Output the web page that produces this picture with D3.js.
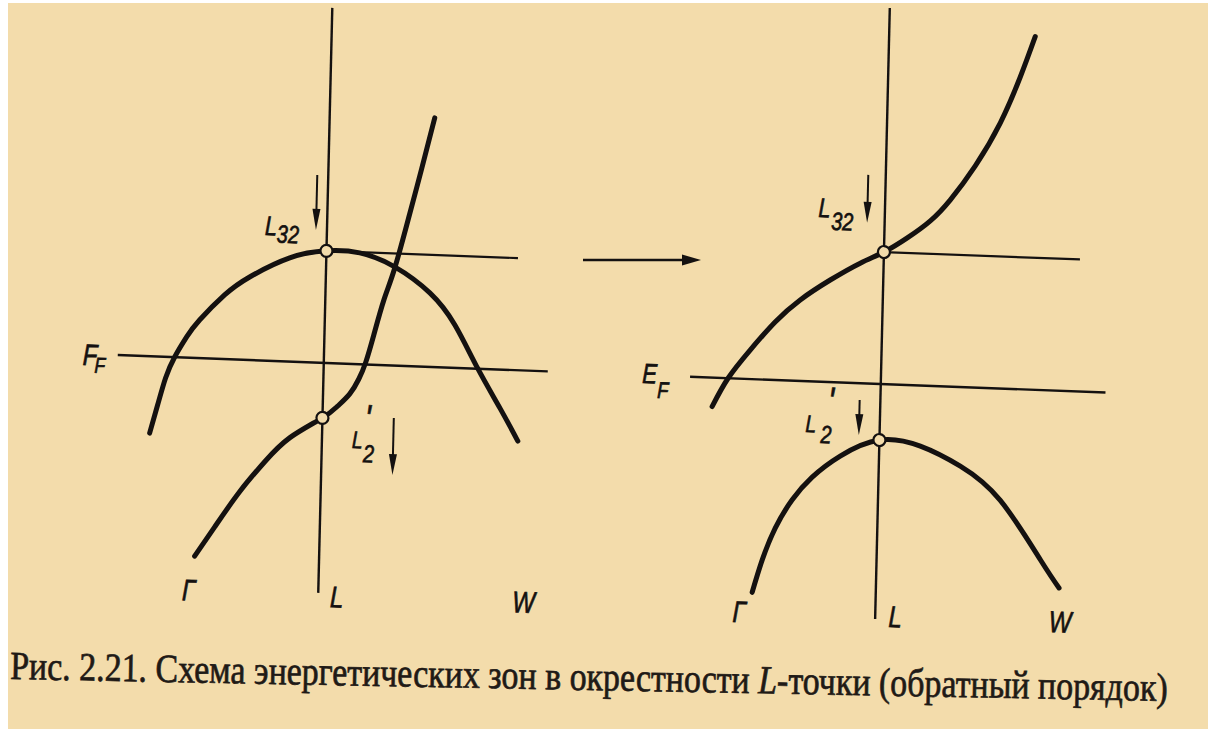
<!DOCTYPE html>
<html>
<head>
<meta charset="utf-8">
<script src="https://cdn.jsdelivr.net/npm/d3@7"></script>
<style>
  html, body { margin: 0; padding: 0; background: #ffffff; }
  svg { display: block; }
</style>
</head>
<body>
<svg id="fig" width="1208" height="729"></svg>
<script>
// Energy bands near the L point, direct (left) and inverted (right) ordering.
// k: wave vector along Γ–L–W, L at k = 0; E: energy, Fermi level at E = 0.

// Left panel: L32 band (maximum at L)
const leftUpperK = [-1.723, -1.65, -1.577, -1.492, -1.376, -1.251, -1.007, -0.761, -0.365, 0, 0.333, 0.686, 1.043, 1.301, 1.541, 1.771, 1.958];
const leftUpperE = [-0.768, -0.485, -0.211, 0.0, 0.207, 0.381, 0.641, 0.83, 1.036, 1.12, 1.112, 0.986, 0.739, 0.428, 0.0, -0.385, -0.708];
// Left panel: L2' band (rising through L)
const leftLowerK = [-1.244, -1.05, -0.81, -0.566, -0.32, 0, 0.15, 0.267, 0.354, 0.42, 0.493, 0.585, 0.687, 0.82, 0.93, 1.05];
const leftLowerE = [-1.98, -1.68, -1.32, -1.01, -0.76, -0.55, -0.426, -0.30, -0.148, 0.025, 0.298, 0.65, 0.976, 1.51, 1.97, 2.49];

// Right panel: L32 band (rising through L)
const rightUpperK = [-1.68, -1.527, -1.313, -1.07, -0.825, -0.53, -0.234, 0, 0.23, 0.456, 0.651, 0.892, 1.132, 1.32, 1.46];
const rightUpperE = [-0.29, 0.0, 0.29, 0.58, 0.81, 1.02, 1.20, 1.32, 1.47, 1.649, 1.867, 2.216, 2.655, 3.12, 3.53];
// Right panel: L2' band (maximum at L)
const rightLowerK = [-1.235, -1.143, -1.02, -0.857, -0.663, -0.388, 0, 0.41, 0.814, 1.22, 1.64, 1.83];
const rightLowerE = [-2.13, -1.805, -1.48, -1.19, -0.956, -0.735, -0.56, -0.605, -0.79, -1.115, -1.70, -1.97];

// Levels at the L point
const levelsL32 = [1.12, 1.32];      // left, right
const levelsL2 = [-0.55, -0.56];     // left, right
// Extent of the Fermi-level line and of the L32 level line, in k
const fermiK = [[-2.06, 2.24], [-1.907, 2.247]];
const l32LineK = [[0, 1.915], [0, 1.96]];
// Extent of the vertical line through L, in E
const axisE = [[-2.3, 3.55], [-2.35, 3.76]];

// Labels
const pointLabels = ["Γ", "L", "W"];
const fermiLabels = [["F", "F"], ["E", "F"]];
const levelNames = { upper: ["L", "32"], lower: ["L", "2", "'"] };
const captionText = ["Рис. 2.21. Схема энергетических зон в окрестности ", "L", "-точки (обратный порядок)"];

const W = 1208, H = 729;
const paper = "#f3dcab";
const ink = "#141110";

const svg = d3.select("#fig");
svg.append("rect").attr("x", 8).attr("y", 3).attr("width", W - 8).attr("height", H - 3).attr("fill", paper);

// The printed figure sits slightly askew on the page
const fig = svg.append("g").attr("transform", "matrix(1,0.038,-0.024,1,8.736,-22.952)");

const y = d3.scaleLinear().domain([0, 1]).range([373.5, 273.5]);
const xs = [
  d3.scaleLinear().domain([0, 1]).range([324, 424]),
  d3.scaleLinear().domain([0, 1]).range([881, 981])
];

const bands = [
  [d3.zip(leftUpperK, leftUpperE), d3.zip(leftLowerK, leftLowerE)],
  [d3.zip(rightUpperK, rightUpperE), d3.zip(rightLowerK, rightLowerE)]
];

function label(parent, px, py, txt, size, sx = 0.8) {
  parent.append("text")
    .attr("transform", `translate(${px},${py}) scale(${sx},1)`)
    .attr("font-family", "'Liberation Sans', Arial, sans-serif")
    .attr("font-style", "italic")
    .attr("font-size", size)
    .attr("fill", ink)
    .attr("stroke", ink)
    .attr("stroke-width", 0.7)
    .text(txt);
}

function downArrow(parent, px, y0, y1) {
  parent.append("line").attr("x1", px).attr("x2", px).attr("y1", y0).attr("y2", y1 - 10)
    .attr("stroke", ink).attr("stroke-width", 2);
  parent.append("path")
    .attr("d", `M${px - 4},${y1 - 21} L${px + 4},${y1 - 21} L${px},${y1} Z`)
    .attr("fill", ink);
}

// Annotation layout per panel, in (k, E)
const layout = [
  {
    l32: { L: [-0.62, 1.255], sub: [-0.50, 1.185], arrow: [-0.11, 1.875, 1.325] },
    l2: { L: [0.30, -0.84], sub: [0.414, -0.977], prime: [0.42, -0.68], arrow: [0.713, -0.525, -1.095] },
    fermi: { main: [-2.41, -0.113], sub: [-2.29, -0.185], size: [30, 22] },
    bottom: [[-1.363, -2.425], [0.118, -2.44], [1.94, -2.42]]
  },
  {
    l32: { L: [-0.665, 1.646], sub: [-0.535, 1.522], arrow: [-0.175, 2.085, 1.605] },
    l2: { L: [-0.744, -0.509], sub: [-0.59, -0.613], prime: [-0.524, -0.33], arrow: [-0.207, -0.168, -0.518] },
    fermi: { main: [-2.385, -0.081], sub: [-2.232, -0.225], size: [28, 23] },
    bottom: [[-1.428, -2.435], [0.133, -2.425], [1.734, -2.415]]
  }
];

xs.forEach((x, i) => {
  const p = fig.append("g");
  const line = d3.line().x(d => x(d[0])).y(d => y(d[1])).curve(d3.curveNatural);

  // vertical line through L
  p.append("line").attr("x1", x(0)).attr("x2", x(0))
    .attr("y1", y(axisE[i][0])).attr("y2", y(axisE[i][1]))
    .attr("stroke", ink).attr("stroke-width", 2.4);
  // Fermi level
  p.append("line").attr("x1", x(fermiK[i][0])).attr("x2", x(fermiK[i][1]))
    .attr("y1", y(0)).attr("y2", y(0))
    .attr("stroke", ink).attr("stroke-width", 2.4);
  // L32 level
  p.append("line").attr("x1", x(l32LineK[i][0])).attr("x2", x(l32LineK[i][1]))
    .attr("y1", y(levelsL32[i])).attr("y2", y(levelsL32[i]))
    .attr("stroke", ink).attr("stroke-width", 2.2);

  // bands
  bands[i].forEach(b => {
    p.append("path").attr("d", line(b)).attr("fill", "none")
      .attr("stroke", ink).attr("stroke-width", 5).attr("stroke-linecap", "round");
  });

  // L-point states
  [levelsL32[i], levelsL2[i]].forEach(e => {
    p.append("circle").attr("cx", x(0)).attr("cy", y(e)).attr("r", 6)
      .attr("fill", paper).attr("stroke", ink).attr("stroke-width", 2.2);
  });

  const lay = layout[i];
  // arrows above the levels
  downArrow(p, x(lay.l32.arrow[0]), y(lay.l32.arrow[1]), y(lay.l32.arrow[2]));
  downArrow(p, x(lay.l2.arrow[0]), y(lay.l2.arrow[1]), y(lay.l2.arrow[2]));

  // level names
  label(p, x(lay.l32.L[0]), y(lay.l32.L[1]), levelNames.upper[0], 27);
  label(p, x(lay.l32.sub[0]), y(lay.l32.sub[1]), levelNames.upper[1], 25);
  label(p, x(lay.l2.L[0]), y(lay.l2.L[1]), levelNames.lower[0], 24);
  label(p, x(lay.l2.sub[0]), y(lay.l2.sub[1]), levelNames.lower[1], 25);
  label(p, x(lay.l2.prime[0]), y(lay.l2.prime[1]), levelNames.lower[2], 40);

  // Fermi level name
  label(p, x(lay.fermi.main[0]), y(lay.fermi.main[1]), fermiLabels[i][0], lay.fermi.size[0]);
  label(p, x(lay.fermi.sub[0]), y(lay.fermi.sub[1]), fermiLabels[i][1], lay.fermi.size[1]);

  // symmetry points
  pointLabels.forEach((t, j) => label(p, x(lay.bottom[j][0]), y(lay.bottom[j][1]), t, 30));
});

// arrow between the two schemes
svg.append("line").attr("x1", 583).attr("x2", 688).attr("y1", 260).attr("y2", 260)
  .attr("stroke", ink).attr("stroke-width", 2.4);
svg.append("path").attr("d", "M682,254.5 L701,260 L682,265.5 Z").attr("fill", ink);

// caption, condensed to the printed line width
const capG = svg.append("g").attr("transform", "rotate(1.09,10,678)");
const cap = capG.append("text")
  .attr("x", 0).attr("y", 0)
  .attr("font-family", "'Liberation Serif', 'Times New Roman', serif")
  .attr("font-size", 40)
  .attr("fill", "#1f1a16")
  .attr("stroke", "#1f1a16")
  .attr("stroke-width", 0.7);
cap.append("tspan").text(captionText[0]);
cap.append("tspan").attr("font-style", "italic").text(captionText[1]);
cap.append("tspan").text(captionText[2]);
const capLen = cap.node().getComputedTextLength();
cap.attr("transform", `translate(10,679) scale(${1158 / capLen},1)`);
</script>
</body>
</html>
